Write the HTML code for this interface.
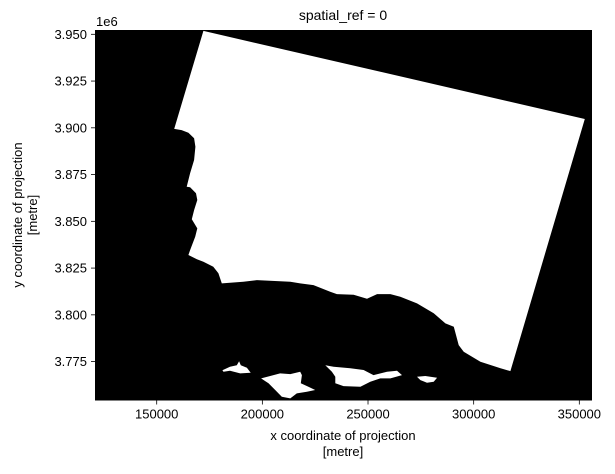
<!DOCTYPE html>
<html><head><meta charset="utf-8"><style>
body{margin:0;background:#fff;}
svg text{font-family:"Liberation Sans","DejaVu Sans",sans-serif;font-size:13px;fill:#000;}
</style></head><body>
<svg id="chart" width="615" height="469" xmlns="http://www.w3.org/2000/svg">
<defs><clipPath id="clip"><rect x="95" y="30" width="497" height="370.5"/></clipPath></defs>
<g id="plot" clip-path="url(#clip)"></g>
<g id="axes"></g>
</svg>
<script>
// data in km (x) and km (y)
const xTicks = [150000, 200000, 250000, 300000, 350000];
const xTickLabels = ["150000", "200000", "250000", "300000", "350000"];
const yTicks = [3.95, 3.925, 3.9, 3.875, 3.85, 3.825, 3.8, 3.775];
const yTickLabels = ["3.950", "3.925", "3.900", "3.875", "3.850", "3.825", "3.800", "3.775"];
const landX = [172.1,352.6,317.4,312.7,303.2,295.3,292.9,290.6,286.6,281.1,273.2,265.3,260.6,254.3,249.5,243.2,235.3,232.1,224.2,217.9,213.2,197.4,191.0,180.8,179.2,176.8,172.1,169.0,165.0,165.8,168.2,169.2,166.6,167.7,169.2,168.6,165.8,164.2,165.8,167.7,168.3,167.7,165.0,161.8,158.3];
const landY = [3951.8,3904.7,3769.9,3771.4,3774.9,3780.3,3783.8,3793.6,3795.4,3800.8,3806.1,3809.7,3811.1,3811.1,3808.6,3810.7,3811.1,3812.3,3815.9,3816.8,3817.7,3818.6,3817.7,3816.8,3822.2,3825.7,3828.4,3829.7,3832.0,3834.6,3841.8,3846.2,3851.1,3856.0,3861.4,3865.0,3868.2,3868.5,3875.7,3882.8,3889.9,3894.4,3897.4,3898.8,3899.4];
const isl1X = [181.1,184.7,187.9,189.0,189.8,192.7,194.5,189.5,184.7,181.6];
const isl1Y = [3770.4,3772.2,3773.1,3775.2,3773.1,3771.7,3769.0,3768.7,3770.1,3769.6];
const isl2X = [199.4,203.7,208.4,213.2,217.9,218.7,218.2,221.8,225.0,221.1,216.3,213.2,209.2,206.1,202.9];
const isl2Y = [3766.0,3767.3,3768.7,3768.3,3769.6,3767.8,3763.4,3761.5,3759.8,3758.9,3758.0,3755.3,3756.2,3759.8,3763.4];
const isl3X = [229.8,233.7,241.6,247.9,252.6,259.0,263.7,266.1,260.6,255.8,251.1,246.4,238.4,234.5,234.5,232.9];
const isl3Y = [3773.1,3772.2,3771.4,3770.5,3767.8,3769.6,3770.1,3767.8,3766.0,3766.0,3764.2,3761.5,3761.9,3763.4,3766.9,3769.6];
const isl4X = [273.2,277.1,282.7,281.1,277.9,274.8];
const isl4Y = [3766.9,3767.3,3766.4,3764.2,3763.7,3765.1];

const L=95,T=30,R=592,B=400.5;
const xMin=120.8,xMax=356.0,yMin=3754.2,yMax=3952.3;
const sx=v=>L+(v-xMin)/(xMax-xMin)*(R-L);
const sy=v=>B-(v-yMin)/(yMax-yMin)*(B-T);
const NS="http://www.w3.org/2000/svg";
const svg=document.getElementById('chart');
const plot=document.getElementById('plot');
const axes=document.getElementById('axes');
function mk(tag,attrs,parent){const e=document.createElementNS(NS,tag);for(const k in attrs)e.setAttribute(k,attrs[k]);parent.appendChild(e);return e;}

const bg=mk('rect',{x:L,y:T,width:R-L,height:B-T,fill:'#000'},plot);


const polys=[[landX,landY,'land-mask'],[isl1X,isl1Y,'island-1'],[isl2X,isl2Y,'island-2'],[isl3X,isl3Y,'island-3'],[isl4X,isl4Y,'island-4']];
polys.forEach(p=>{
  const pts=p[0].map((x,i)=>sx(x).toFixed(1)+','+sy(p[1][i]).toFixed(1)).join(' ');
  const el=mk('polygon',{points:pts,fill:'#fff'},plot);
  
  
});

xTicks.forEach((t,i)=>{
  const x=sx(t/1000);
  const tk=mk('line',{x1:x,x2:x,y1:B,y2:B+4,stroke:'#000','stroke-width':0.8},axes);
  
  
  const lb=mk('text',{x:x,y:B+18,'text-anchor':'middle'},axes);
  lb.textContent=xTickLabels[i];
  
  
});
yTicks.forEach((t,i)=>{
  const y=sy(t*1000);
  const tk=mk('line',{x1:L-4,x2:L,y1:y,y2:y,stroke:'#000','stroke-width':0.8},axes);
  
  
  const lb=mk('text',{x:L-8,y:y+4.5,'text-anchor':'end'},axes);
  lb.textContent=yTickLabels[i];
  
  
});
</script>
<svg style="position:absolute;left:0;top:0" width="615" height="469" xmlns="http://www.w3.org/2000/svg">
<text x="96" y="26">1e6</text>
<text x="343" y="20" text-anchor="middle" style="font-size:14px">spatial_ref = 0</text>
<text x="343" y="440" text-anchor="middle">x coordinate of projection</text>
<text x="343" y="456" text-anchor="middle">[metre]</text>
<text transform="translate(22,215) rotate(-90)" text-anchor="middle">y coordinate of projection</text>
<text transform="translate(37,215) rotate(-90)" text-anchor="middle">[metre]</text>
</svg>
</body></html>
